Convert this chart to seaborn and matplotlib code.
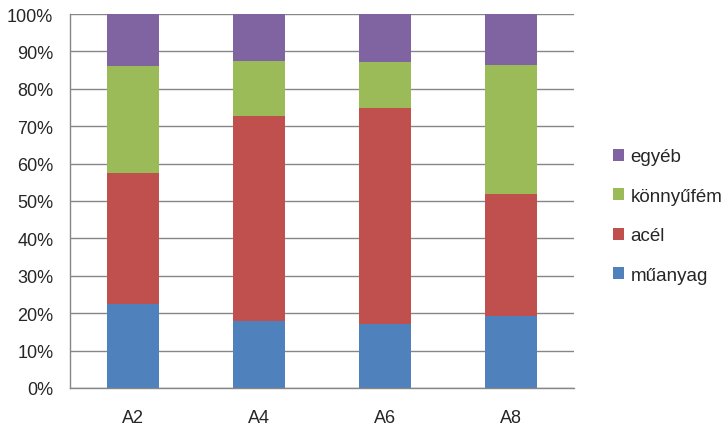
import seaborn as sns
import matplotlib.pyplot as plt
import pandas as pd
from matplotlib.patches import Patch
from matplotlib.ticker import PercentFormatter, FixedLocator, NullFormatter

# shares in percent
categories = ['A2', 'A4', 'A6', 'A8']
muanyag = [22.5, 18.0, 17.1, 19.3]
acel = [35.0, 54.7, 57.8, 32.6]
konnyufem = [28.6, 14.7, 12.3, 34.5]
egyeb = [13.9, 12.6, 12.8, 13.6]

series = ['műanyag', 'acél', 'könnyűfém', 'egyéb']
colors = ['#4F81BD', '#C0504D', '#9BBB59', '#8064A2']

df = pd.DataFrame({'cat': categories, 'műanyag': muanyag, 'acél': acel,
                   'könnyűfém': konnyufem, 'egyéb': egyeb})
cum = df[series].cumsum(axis=1)

sns.set_style('white')
plt.rcParams['font.family'] = ['Liberation Sans', 'DejaVu Sans']

fig = plt.figure(figsize=(7.27, 4.27), dpi=100)
ax = fig.add_axes([70 / 727, 1 - 389 / 427, 504 / 727, 374 / 427])

# draw from the top layer down so each cumulative bar covers the one above
for name, col in reversed(list(zip(series, colors))):
    sns.barplot(x=df['cat'], y=cum[name], color=col, width=0.405,
                saturation=1, ax=ax, edgecolor='none', linewidth=0)

ax.set_xlim(-0.5, 3.5)
ax.set_ylim(0, 100)
ax.set_yticks(range(0, 101, 10))
ax.yaxis.set_major_formatter(PercentFormatter(decimals=0))
ax.grid(axis='y', color='#868686', linewidth=1)
ax.set_axisbelow(True)

ax.xaxis.set_major_locator(FixedLocator([-0.5, 0.5, 1.5, 2.5, 3.5]))
ax.xaxis.set_major_formatter(NullFormatter())
ax.xaxis.set_minor_locator(FixedLocator([0, 1, 2, 3]))
ax.set_xticklabels(categories, minor=True)
ax.tick_params(axis='x', which='major', length=5, color='#868686', width=1)
ax.tick_params(axis='x', which='minor', length=0, pad=15, labelsize=13)
ax.tick_params(axis='y', length=5, color='#868686', width=1, labelsize=13, pad=7)
ax.set_xlabel('')
ax.set_ylabel('')

for side in ['top', 'right']:
    ax.spines[side].set_visible(False)
for side in ['left', 'bottom']:
    ax.spines[side].set_color('#868686')
    ax.spines[side].set_linewidth(1)

handles = [Patch(facecolor=c, edgecolor='none') for c in colors]
fig.legend(handles[::-1], series[::-1], loc='center left',
           bbox_to_anchor=(596 / 727, 1 - 217 / 427), frameon=False,
           fontsize=13.5, handlelength=0.6, handleheight=0.6,
           handletextpad=0.35, labelspacing=1.2)

fig.savefig('out.png', dpi=100)
